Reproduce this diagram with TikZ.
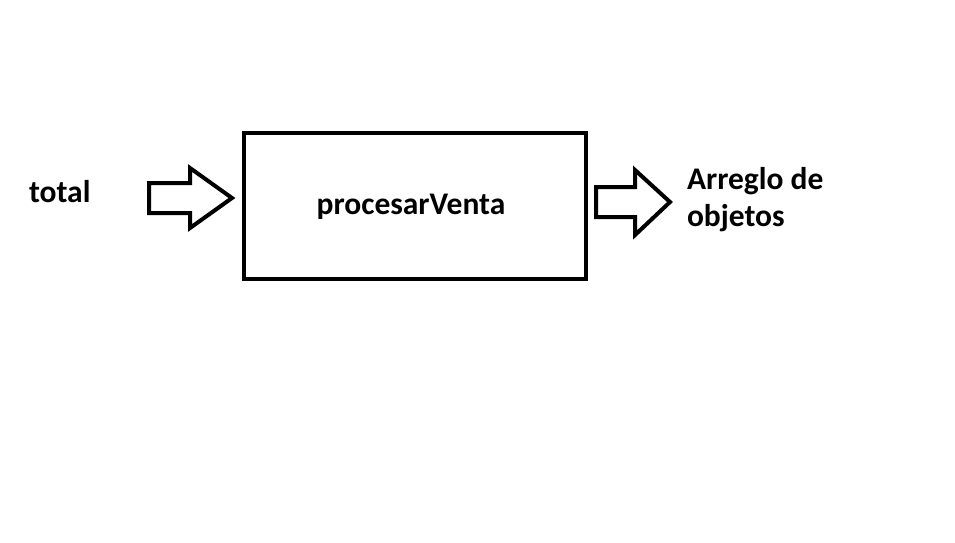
\documentclass[tikz,border=0pt]{standalone}
\usepackage{fontspec}
\setmainfont{Carlito}
\begin{document}
\begin{tikzpicture}[x=1pt,y=-1pt,line width=4pt,
    lbl/.style={inner sep=0pt,font=\fontsize{31.5}{37}\selectfont\bfseries}]
            \useasboundingbox (0,0) rectangle (955,542);
            \draw (244,133) rectangle (586,279);
            \node[lbl,anchor=base] (proc) at (411,214) {procesarVenta};
            \node[lbl,anchor=base west] (total) at (27,202) {total};
            \node[lbl,anchor=base west,align=left] (arreglo) at (685,226) {Arreglo de\\objetos};
            \draw[line join=miter] (149,183) -- (190,183) -- (190,168) -- (232,198) -- (190,228) -- (190,213) -- (149,213) -- cycle;
            \draw[line join=miter] (596,187) -- (635,187) -- (635,170) -- (670,202) -- (635,235) -- (635,217) -- (596,217) -- cycle;
        \end{tikzpicture}
\end{document}
